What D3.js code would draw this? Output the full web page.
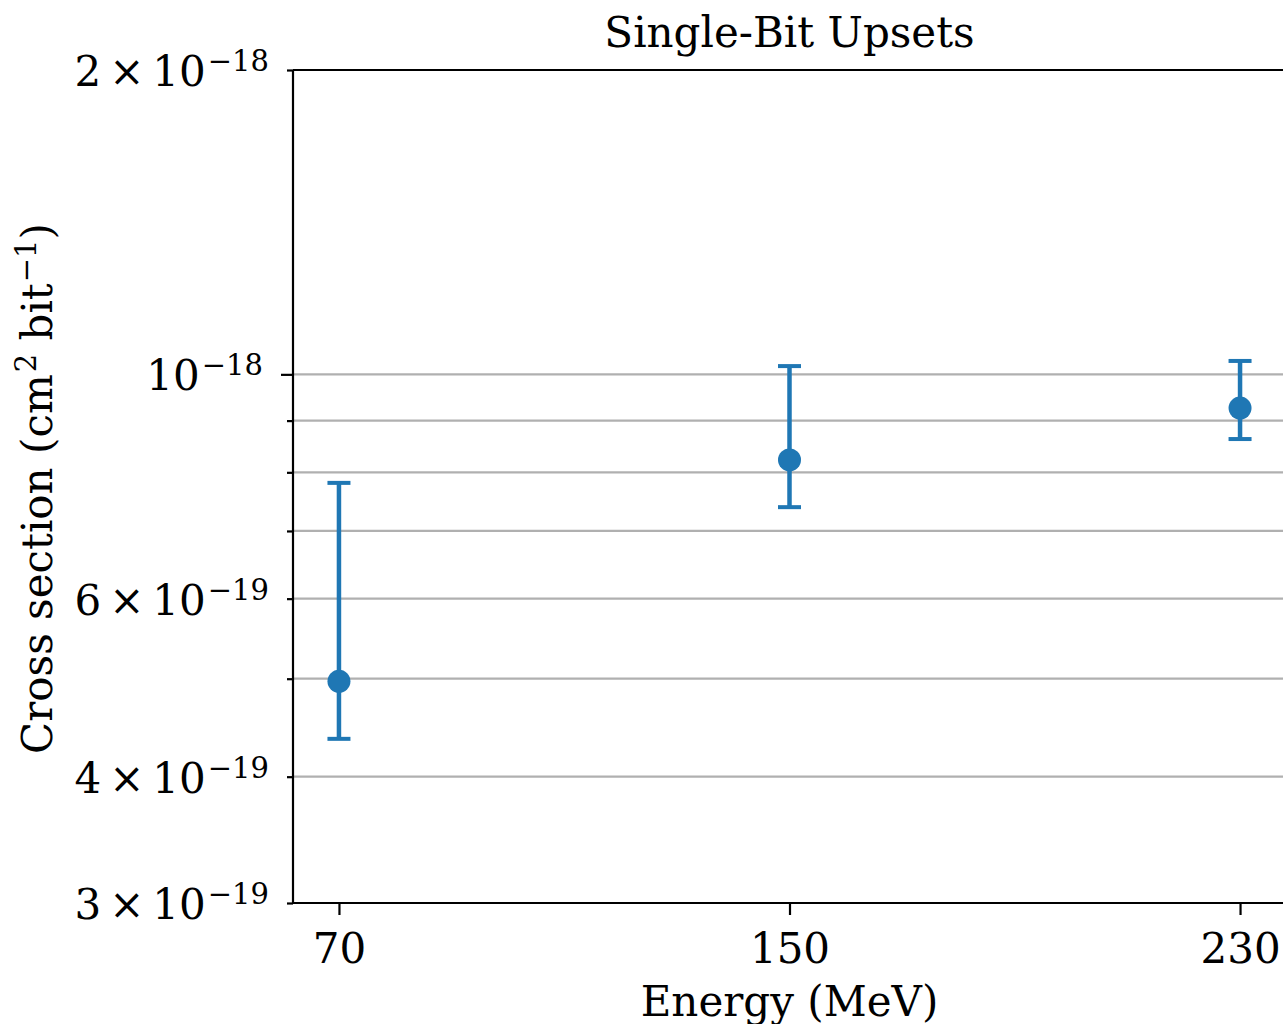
<!DOCTYPE html>
<html>
<head>
<meta charset="utf-8">
<script src="https://cdn.jsdelivr.net/npm/d3@7"></script>
<style>
  html, body { margin: 0; padding: 0; background: #ffffff; }
  svg { display: block; }
  text { font-family: "DejaVu Serif", serif; fill: #000; }
</style>
</head>
<body>
<svg id="chart" width="1283" height="1024"></svg>
<script>
// ---- Data ----
const energies = [70, 150, 230];                     // MeV
const crossSection = [4.97e-19, 8.23e-19, 9.26e-19]; // cm^2 bit^-1
const errLower = [4.36e-19, 7.39e-19, 8.63e-19];
const errUpper = [7.81e-19, 1.019e-18, 1.031e-18];

const xTickValues = [70, 150, 230];
const yMajorTicks = [1e-18];
const yMinorTicks = [3e-19, 4e-19, 5e-19, 6e-19, 7e-19, 8e-19, 9e-19, 2e-18];
const yLabelValues = [2e-18, 1e-18, 6e-19, 4e-19, 3e-19];
const yLabelMantissas = ["2", "", "6", "4", "3"];
const yLabelExponents = ["\u221218", "\u221218", "\u221219", "\u221219", "\u221219"];

const titleText = "Single-Bit Upsets";
const xLabelText = "Energy (MeV)";

// ---- Layout ----
const svg = d3.select("#chart");
const pLeft = 293, pTop = 70, pBottom = 903, pRight = 1286;
const blue = "#1f77b4";
const fs = 42, fsSup = 29;
const majorLen = 12, minorLen = 6, labelPad = 18;

const x = d3.scaleLinear().domain([61.84, 238.16]).range([pLeft, pRight]);
const y = d3.scaleLog().domain([3e-19, 2e-18]).range([pBottom, pTop]);

// Gridlines
const gridVals = yMajorTicks.concat(yMinorTicks);
svg.append("g").selectAll("line").data(gridVals).join("line")
  .attr("x1", pLeft).attr("x2", pRight)
  .attr("y1", d => y(d)).attr("y2", d => y(d))
  .attr("stroke", "#b0b0b0").attr("stroke-width", 2.2);

// Error bars
const eb = svg.append("g");
energies.forEach((e, i) => {
  const cx = x(e);
  eb.append("line").attr("x1", cx).attr("x2", cx)
    .attr("y1", y(errLower[i])).attr("y2", y(errUpper[i]))
    .attr("stroke", blue).attr("stroke-width", 4.5);
  [errLower[i], errUpper[i]].forEach(v => {
    eb.append("line").attr("x1", cx - 11.5).attr("x2", cx + 11.5)
      .attr("y1", y(v)).attr("y2", y(v))
      .attr("stroke", blue).attr("stroke-width", 4);
  });
});
svg.append("g").selectAll("circle").data(energies).join("circle")
  .attr("cx", d => x(d)).attr("cy", (d, i) => y(crossSection[i]))
  .attr("r", 11.5).attr("fill", blue);

// Axes
const yMajor = svg.append("g").attr("transform", `translate(${pLeft},0)`)
  .call(d3.axisLeft(y).tickValues(yMajorTicks).tickFormat("").tickSize(majorLen));
const yMinor = svg.append("g").attr("transform", `translate(${pLeft},0)`)
  .call(d3.axisLeft(y).tickValues(yMinorTicks).tickFormat("").tickSize(minorLen));
const xAx = svg.append("g").attr("transform", `translate(0,${pBottom})`)
  .call(d3.axisBottom(x).tickValues(xTickValues).tickFormat(d3.format("d")).tickSize(majorLen).tickPadding(18));

[yMajor, yMinor, xAx].forEach(g => {
  g.select(".domain").remove();
  g.selectAll(".tick line").attr("stroke", "#000").attr("stroke-width", 2.2);
});
xAx.selectAll(".tick text").attr("font-size", fs).attr("font-family", "DejaVu Serif").attr("fill", "#000");

// Spines
svg.append("line").attr("x1", pLeft).attr("x2", pLeft).attr("y1", pTop).attr("y2", pBottom)
  .attr("stroke", "#000").attr("stroke-width", 2.2);
svg.append("line").attr("x1", pLeft).attr("x2", pRight).attr("y1", pBottom).attr("y2", pBottom)
  .attr("stroke", "#000").attr("stroke-width", 2.2);
svg.append("line").attr("x1", pLeft).attr("x2", pRight).attr("y1", pTop).attr("y2", pTop)
  .attr("stroke", "#000").attr("stroke-width", 2.2);
svg.append("line").attr("x1", pRight).attr("x2", pRight).attr("y1", pTop).attr("y2", pBottom)
  .attr("stroke", "#000").attr("stroke-width", 2.2);

// Y tick labels
const yl = svg.append("g");
yLabelValues.forEach((v, i) => {
  const isMajor = yMajorTicks.includes(v);
  const ax = pLeft - (isMajor ? majorLen : minorLen) - labelPad;
  const t = yl.append("text").attr("x", ax).attr("y", y(v) + 16)
    .attr("text-anchor", "end").attr("font-size", fs);
  if (yLabelMantissas[i]) {
    t.append("tspan").text(yLabelMantissas[i]);
    t.append("tspan").attr("dx", 8).text("\u00d7");
    t.append("tspan").attr("dx", 8).text("10");
  } else {
    t.append("tspan").text("10");
  }
  t.append("tspan").attr("font-size", fsSup).attr("dy", -15).attr("dx", 2).text(yLabelExponents[i]);
});

// Title
svg.append("text").attr("x", (pLeft + pRight) / 2).attr("y", 47)
  .attr("text-anchor", "middle").attr("font-size", fs).text(titleText);

// X label
svg.append("text").attr("x", (pLeft + pRight) / 2).attr("y", 1016)
  .attr("text-anchor", "middle").attr("font-size", fs).text(xLabelText);

// Y label
const ylab = svg.append("text")
  .attr("transform", `translate(52,${(pTop + pBottom) / 2 + 2}) rotate(-90)`)
  .attr("text-anchor", "middle").attr("font-size", fs);
ylab.append("tspan").text("Cross section (cm");
ylab.append("tspan").attr("font-size", fsSup).attr("dy", -16).attr("dx", 2).text("2");
ylab.append("tspan").attr("dy", 16).text(" bit");
ylab.append("tspan").attr("font-size", fsSup).attr("dy", -16).attr("dx", 1).text("\u22121");
ylab.append("tspan").attr("dy", 16).text(")");
</script>
</body>
</html>
